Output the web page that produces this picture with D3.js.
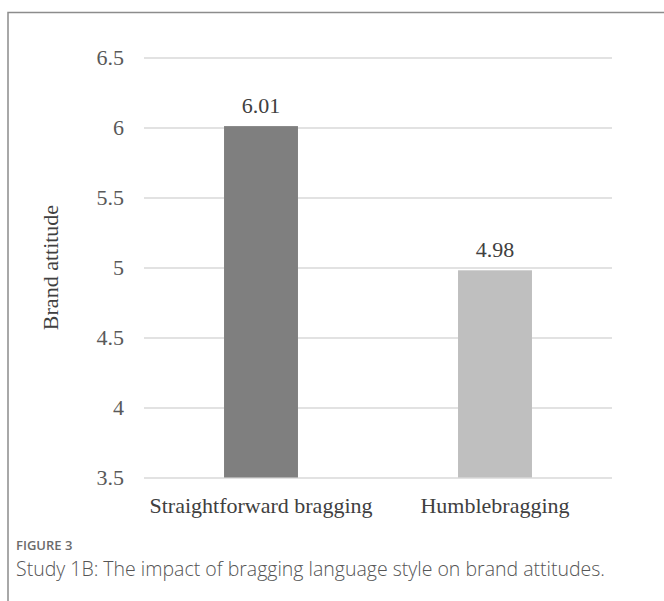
<!DOCTYPE html>
<html>
<head>
<meta charset="utf-8">
<script src="https://cdn.jsdelivr.net/npm/d3@7"></script>
<style>
  html, body { margin: 0; padding: 0; background: #fff; }
  svg { display: block; }
</style>
</head>
<body>
<svg id="chart" width="664" height="601"></svg>
<script>
const categories = ["Straightforward bragging", "Humblebragging"];
const values = [6.01, 4.98];
const valueLabels = ["6.01", "4.98"];
const barColors = ["#7f7f7f", "#bfbfbf"];
const yTicks = [3.5, 4, 4.5, 5, 5.5, 6, 6.5];
const yTickLabels = ["3.5", "4", "4.5", "5", "5.5", "6", "6.5"];
const yTitle = "Brand attitude";
const figLabel = "FIGURE 3";
const caption = "Study 1B: The impact of bragging language style on brand attitudes.";

const svg = d3.select("#chart");
const W = 664, H = 601;

// frame (left and top border)
svg.append("path")
  .attr("d", `M8,${H} L8,12.5 L${W},12.5`)
  .attr("fill", "none")
  .attr("stroke", "#8c8c8c")
  .attr("stroke-width", 1.5);

const plot = { left: 144, right: 612, top: 57.5, bottom: 477.5 };

const y = d3.scaleLinear().domain([3.5, 6.5]).range([plot.bottom, plot.top]);
const x = d3.scaleBand().domain(categories).range([plot.left, plot.right]).paddingInner(0.684).paddingOuter(0.342);

const serif = "'Liberation Serif', 'Times New Roman', Times, serif";

// gridlines + tick labels via axis
const axis = d3.axisLeft(y)
  .tickValues(yTicks)
  .tickFormat((d, i) => yTickLabels[i])
  .tickSize(-(plot.right - plot.left))
  .tickPadding(20);

const gAxis = svg.append("g")
  .attr("transform", `translate(${plot.left},0)`)
  .call(axis)
  .attr("font-family", null)
  .attr("font-size", null);
gAxis.select(".domain").remove();
gAxis.selectAll(".tick line")
  .attr("stroke", "#d9d9d9")
  .attr("stroke-width", 1.5);
gAxis.selectAll(".tick text")
  .style("font-family", serif)
  .style("font-size", "22px")
  .attr("fill", "#595959")
  .attr("dy", "0.32em");

// bars
svg.append("g").selectAll("rect")
  .data(values)
  .join("rect")
  .attr("x", (d, i) => x(categories[i]))
  .attr("width", x.bandwidth())
  .attr("y", d => y(d))
  .attr("height", d => y(3.5) - y(d))
  .attr("fill", (d, i) => barColors[i]);

// value labels
svg.append("g").selectAll("text")
  .data(values)
  .join("text")
  .attr("x", (d, i) => x(categories[i]) + x.bandwidth() / 2)
  .attr("y", d => y(d) - 13)
  .attr("text-anchor", "middle")
  .style("font-family", serif)
  .style("font-size", "22px")
  .attr("fill", "#404040")
  .text((d, i) => valueLabels[i]);

// category labels
svg.append("g").selectAll("text")
  .data(categories)
  .join("text")
  .attr("x", d => x(d) + x.bandwidth() / 2)
  .attr("y", 513)
  .attr("text-anchor", "middle")
  .style("font-family", serif)
  .style("font-size", "22px")
  .attr("fill", "#404040")
  .text(d => d);

// y title
svg.append("text")
  .attr("transform", `translate(58,${(plot.top + plot.bottom) / 2}) rotate(-90)`)
  .attr("text-anchor", "middle")
  .style("font-family", serif)
  .style("font-size", "22px")
  .attr("fill", "#404040")
  .text(yTitle);

// figure caption
svg.append("text")
  .attr("x", 16)
  .attr("y", 550)
  .style("font-family", "'Open Sans', sans-serif")
  .style("font-weight", 600)
  .style("font-size", "13px")
  .attr("fill", "#6b6b6b")
  .text(figLabel);

svg.append("text")
  .attr("x", 16)
  .attr("y", 576)
  .style("font-family", "'Open Sans', sans-serif")
  .style("font-weight", 300)
  .style("font-size", "19.5px")
  .attr("fill", "#555")
  .text(caption);
</script>
</body>
</html>
